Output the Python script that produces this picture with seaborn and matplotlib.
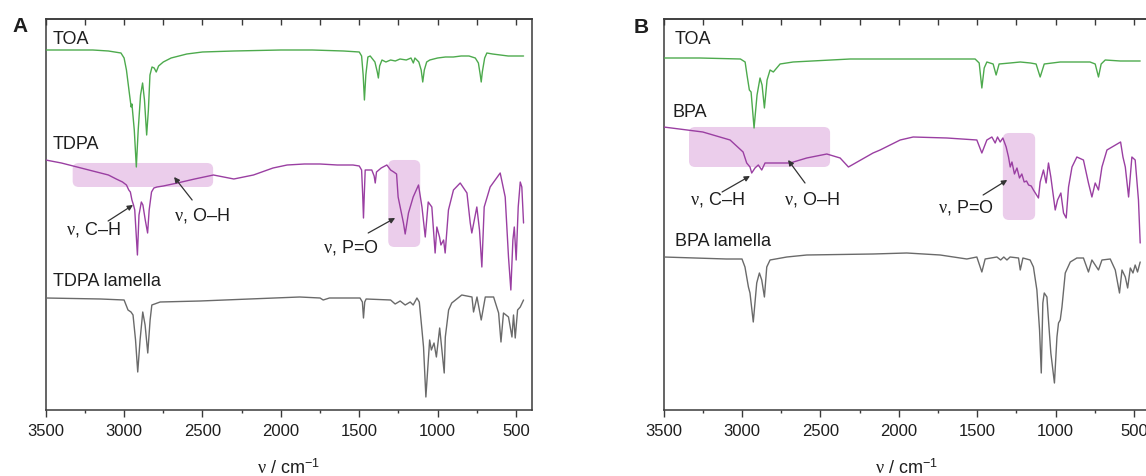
import matplotlib
matplotlib.use("Agg")
import matplotlib.pyplot as plt
import pandas as pd
import seaborn as sns
from matplotlib.patches import FancyBboxPatch
from matplotlib.ticker import MultipleLocator

# ---------------- data (wavenumber / cm-1, offset transmittance, a.u.) ----------------
# Panel A
toa_a_wn = [3500, 3200, 3100, 3020, 3000, 2985, 2965, 2955, 2950, 2935, 2922, 2910, 2895, 2882, 2870,
            2856, 2845, 2835, 2822, 2808, 2795, 2780, 2750, 2700, 2600, 2500, 2300, 2000, 1800, 1600,
            1500, 1485, 1475, 1467, 1458, 1445, 1430, 1400, 1385, 1378, 1370, 1355, 1330, 1300, 1270,
            1240, 1200, 1170, 1155, 1145, 1120, 1105, 1095, 1085, 1070, 1050, 1000, 950, 900, 850,
            800, 760, 740, 728, 722, 715, 700, 686, 650, 600, 550, 500, 452]
toa_a_t = [360, 360, 359, 357, 352, 340, 315, 303, 306, 280, 243, 280, 315, 327, 310,
           275, 300, 335, 343, 342, 338, 344, 348, 352, 356, 358, 359, 360, 360, 359,
           358, 354, 335, 310, 335, 353, 354, 348, 338, 332, 344, 350, 348, 350, 349,
           351, 350, 352, 347, 352, 348, 340, 328, 340, 348, 350, 352, 353, 353, 354,
           354, 352, 347, 335, 328, 338, 352, 357, 356, 355, 354, 354, 354]

tdpa_wn = [3500, 3400, 3300, 3200, 3100, 3050, 3010, 2985, 2970, 2960, 2950, 2940, 2932, 2915, 2905,
           2890, 2880, 2865, 2850, 2840, 2825, 2810, 2790, 2750, 2660, 2550, 2430, 2300, 2175, 2050,
           1960, 1850, 1750, 1640, 1540, 1500, 1485, 1478, 1473, 1468, 1462, 1440, 1420, 1405, 1398,
           1390, 1360, 1324, 1300, 1280, 1262, 1252, 1239, 1218, 1207, 1186, 1156, 1122, 1100, 1079,
           1060, 1037, 1016, 1005, 988, 979, 962, 952, 931, 899, 856, 813, 792, 782, 750,
           733, 718, 703, 665, 601, 569, 548, 533, 520, 511, 499, 486, 473, 463, 452]
tdpa_t = [250, 247, 243, 239, 235, 231, 228, 225, 220, 218, 210, 205, 200, 155, 195,
          208, 205, 190, 177, 200, 218, 222, 223, 224, 227, 231, 235, 231, 235, 242,
          245, 246, 246, 245, 245, 244, 240, 215, 192, 215, 240, 240, 240, 234, 227,
          238, 242, 245, 240, 238, 236, 213, 203, 187, 176, 197, 213, 225, 203, 173,
          208, 203, 157, 183, 173, 165, 170, 157, 200, 220, 227, 217, 187, 177, 203,
          180, 143, 203, 223, 237, 213, 153, 120, 170, 183, 150, 203, 228, 223, 187]

tdpa_lam_wn = [3500, 3150, 3000, 2975, 2956, 2943, 2927, 2913, 2898, 2881, 2866, 2849, 2834, 2823, 2770,
               2515, 2200, 1880, 1750, 1730, 1690, 1495, 1480, 1473, 1465, 1456, 1300, 1271, 1239, 1207,
               1175, 1156, 1132, 1117, 1100, 1090, 1075, 1051, 1040, 1023, 1008, 987, 958, 951, 930,
               910, 846, 781, 771, 749, 722, 696, 643, 611, 596, 580, 548, 526, 516, 505,
               490, 473, 452]
tdpa_lam_t = [112, 111, 110, 100, 98, 95, 70, 38, 70, 98, 85, 57, 90, 105, 108,
              109, 111, 113, 112, 110, 112, 112, 108, 92, 108, 111, 110, 106, 109, 105,
              108, 105, 112, 108, 80, 63, 13, 70, 60, 67, 53, 82, 37, 73, 100,
              107, 115, 113, 98, 113, 90, 113, 113, 97, 68, 97, 93, 73, 95, 72,
              100, 103, 110]

# Panel B
toa_b_wn = [3500, 3270, 3010, 2980, 2968, 2953, 2942, 2923, 2904, 2885, 2872, 2857, 2840, 2821, 2800,
            2757, 2674, 2310, 1990, 1513, 1487, 1470, 1455, 1438, 1398, 1379, 1360, 1290, 1225, 1160,
            1124, 1098, 1072, 970, 780, 747, 726, 709, 683, 587, 460]
toa_b_t = [352, 352, 351, 348, 335, 320, 318, 282, 315, 332, 325, 302, 330, 340, 338,
           346, 348, 351, 351, 351, 347, 322, 342, 348, 346, 335, 346, 347, 348, 347,
           346, 333, 346, 348, 348, 346, 333, 346, 350, 349, 349]

bpa_wn = [3500, 3250, 3076, 2993, 2970, 2949, 2938, 2917, 2896, 2874, 2853, 2693, 2587, 2459, 2374,
          2321, 2164, 2119, 1991, 1908, 1693, 1502, 1470, 1438, 1406, 1385, 1370, 1353, 1336, 1315,
          1300, 1289, 1278, 1262, 1246, 1230, 1215, 1200, 1185, 1172, 1155, 1141, 1125, 1109, 1098,
          1077, 1060, 1045, 1030, 1002, 987, 966, 949, 932, 917, 895, 864, 822, 790, 768,
          747, 726, 704, 672, 585, 570, 555, 534, 513, 492, 471, 460]
bpa_t = [283, 278, 270, 258, 247, 243, 237, 242, 245, 240, 247, 247, 252, 256, 252,
         243, 257, 260, 270, 273, 272, 270, 257, 270, 273, 267, 273, 268, 272, 263,
         253, 243, 248, 236, 242, 232, 236, 228, 229, 225, 224, 220, 216, 212, 228,
         240, 227, 247, 233, 200, 210, 217, 197, 192, 223, 243, 253, 250, 227, 213,
         227, 220, 243, 260, 268, 253, 243, 213, 253, 250, 210, 167]

bpa_lam_wn = [3500, 3300, 3100, 3000, 2981, 2959, 2949, 2928, 2906, 2889, 2874, 2857, 2842, 2821, 2714,
              2587, 2164, 1949, 1736, 1566, 1502, 1470, 1449, 1374, 1350, 1330, 1310, 1290, 1236, 1225,
              1208, 1162, 1141, 1119, 1102, 1091, 1081, 1072, 1055, 1045, 1030, 1007, 991, 981, 970,
              959, 938, 906, 864, 822, 790, 768, 726, 704, 651, 619, 592, 576, 555, 540,
              523, 506, 492, 477, 460]
bpa_lam_t = [153, 152, 151, 151, 143, 123, 117, 88, 127, 137, 130, 113, 143, 150, 153,
             155, 156, 157, 155, 151, 153, 138, 151, 153, 150, 153, 150, 153, 152, 140,
             152, 150, 143, 120, 80, 37, 107, 117, 113, 90, 57, 27, 73, 87, 90,
             103, 137, 148, 152, 152, 138, 150, 140, 150, 151, 140, 117, 140, 133, 122,
             142, 137, 145, 138, 148]

x_ticks = [3500, 3000, 2500, 2000, 1500, 1000, 500]
x_tick_labels = ["3500", "3000", "2500", "2000", "1500", "1000", "500"]

# ---------------- style ----------------
sns.set_theme(style="ticks")
plt.rcParams["font.family"] = ["Liberation Sans", "DejaVu Sans"]
plt.rcParams["mathtext.fontset"] = "custom"
plt.rcParams["mathtext.rm"] = "Liberation Sans"
plt.rcParams["mathtext.it"] = "Liberation Serif"
plt.rcParams["mathtext.bf"] = "Liberation Sans:bold"

GREEN = "#4daa4d"
PURPLE = "#9a3fa2"
GRAY = "#6a6a6a"
PINK = "#ebcdeb"
INK = "#1e1e1e"
SPINE = "#3a3a3a"

fig = plt.figure(figsize=(11.46, 4.76), dpi=100)
ax_a = fig.add_axes([0.03988, 0.13866, 0.42408, 0.82143])
ax_b = fig.add_axes([0.57906, 0.13866, 0.42408, 0.82143])


def draw_trace(ax, wn, t, color):
    df = pd.DataFrame({"wn": wn, "t": t})
    sns.lineplot(data=df, x="wn", y="t", ax=ax, color=color, lw=1.0,
                 estimator=None, sort=False, zorder=3)


def rbox(ax, wn0, wn1, t0, t1):
    p = FancyBboxPatch((min(wn0, wn1), min(t0, t1)), abs(wn1 - wn0), abs(t1 - t0),
                       boxstyle="round,pad=0,rounding_size=40", mutation_aspect=0.15,
                       fc=PINK, ec="none", zorder=1)
    ax.add_patch(p)


def arrow(ax, start, tip):
    ax.annotate("", xy=tip, xytext=start,
                arrowprops=dict(arrowstyle="-|>", color="#333333", lw=0.9,
                                mutation_scale=8, shrinkA=0, shrinkB=0), zorder=4)


def style_axes(ax):
    ax.set_xlim(3500, 400)
    ax.set_ylim(0, 391)
    ax.set_yticks([])
    ax.set_ylabel("")
    ax.set_xticks(x_ticks)
    ax.set_xticklabels(x_tick_labels)
    ax.xaxis.set_minor_locator(MultipleLocator(250))
    ax.tick_params(axis="x", which="major", direction="out", length=5, width=1.0,
                   color=SPINE, labelsize=12, pad=5, labelcolor=INK, top=False, bottom=True)
    ax.tick_params(axis="x", which="minor", direction="out", length=2.5, width=1.0,
                   color=SPINE, top=False, bottom=True)
    for s in ax.spines.values():
        s.set_visible(True)
        s.set_linewidth(1.1)
        s.set_color(SPINE)
    sec = ax.secondary_xaxis("top")
    sec.set_xticks(x_ticks)
    sec.xaxis.set_minor_locator(MultipleLocator(250))
    sec.tick_params(axis="x", which="both", direction="in", length=4.5, width=1.0,
                    color=SPINE, labeltop=False)
    sec.spines["top"].set_linewidth(1.1)
    sec.spines["top"].set_color(SPINE)
    ax.set_xlabel(r"$\nu$ / cm$^{-1}$", fontsize=13, labelpad=14, color=INK)


# ---------------- panel A ----------------
rbox(ax_a, 3328, 2432, 223, 247)
rbox(ax_a, 1315, 1111, 163, 250)
draw_trace(ax_a, toa_a_wn, toa_a_t, GREEN)
draw_trace(ax_a, tdpa_wn, tdpa_t, PURPLE)
draw_trace(ax_a, tdpa_lam_wn, tdpa_lam_t, GRAY)
style_axes(ax_a)

lab = dict(ha="left", va="center", fontsize=13, color=INK)
ax_a.text(3453, 370, "TOA", **lab)
ax_a.text(3453, 265, "TDPA", **lab)
ax_a.text(3453, 128, "TDPA lamella", **lab)

ann = dict(ha="center", va="center", fontsize=13, color=INK)
ax_a.text(3198, 180, r"$\nu$, C–H", **ann)
ax_a.text(2502, 194, r"$\nu$, O–H", **ann)
ax_a.text(1551, 162, r"$\nu$, P=O", **ann)
arrow(ax_a, (3102, 189), (2943, 205))
arrow(ax_a, (2566, 210), (2681, 233))
arrow(ax_a, (1443, 177), (1271, 192))

# ---------------- panel B ----------------
rbox(ax_b, 3338, 2438, 243, 283)
rbox(ax_b, 1336, 1130, 190, 277)
draw_trace(ax_b, toa_b_wn, toa_b_t, GREEN)
draw_trace(ax_b, bpa_wn, bpa_t, PURPLE)
draw_trace(ax_b, bpa_lam_wn, bpa_lam_t, GRAY)
style_axes(ax_b)

ax_b.text(3427, 370, "TOA", **lab)
ax_b.text(3446, 297, "BPA", **lab)
ax_b.text(3427, 168, "BPA lamella", **lab)

ax_b.text(3159, 210, r"$\nu$, C–H", **ann)
ax_b.text(2553, 210, r"$\nu$, O–H", **ann)
ax_b.text(1570, 202, r"$\nu$, P=O", **ann)
arrow(ax_b, (3127, 218), (2949, 234))
arrow(ax_b, (2598, 227), (2706, 250))
arrow(ax_b, (1462, 215), (1308, 230))

fig.text(0.0175, 0.945, "A", fontsize=15, fontweight="bold", ha="center", va="center", color=INK)
fig.text(0.5593, 0.943, "B", fontsize=15, fontweight="bold", ha="center", va="center", color=INK)

fig.savefig("out.png", dpi=100)
